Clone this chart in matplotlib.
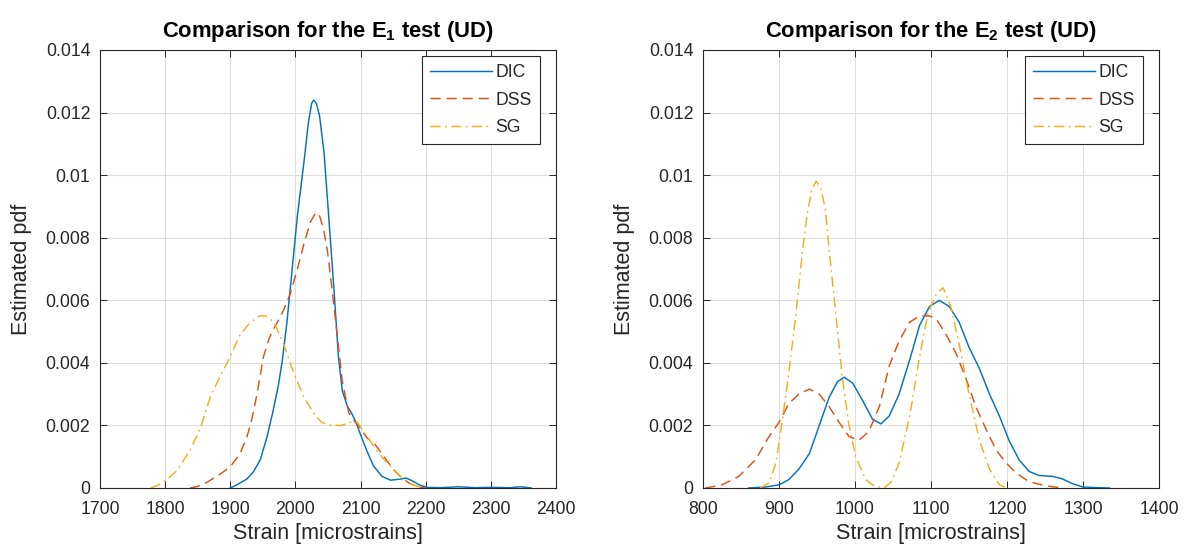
import matplotlib
matplotlib.use("Agg")
import matplotlib.pyplot as plt

plt.rcParams['font.family'] = ['Liberation Sans', 'DejaVu Sans']
plt.rcParams['mathtext.default'] = 'regular'

# ---------------- data ----------------
e1_dic_x = [1900, 1910, 1925, 1935, 1946, 1956, 1965, 1974, 1980, 1987, 1995, 2003, 2013, 2020,
            2025, 2028, 2032, 2037, 2044, 2051, 2059, 2066, 2072, 2080, 2086, 2093, 2100, 2110,
            2120, 2133, 2146, 2160, 2170, 2180, 2190, 2202, 2225, 2250, 2275, 2300, 2330, 2345, 2362]
e1_dic_y = [0, 0.0001, 0.00028, 0.0005, 0.0009, 0.0016, 0.0024, 0.0033, 0.0041, 0.0053, 0.0070,
            0.0087, 0.0104, 0.0117, 0.0123, 0.0124, 0.0123, 0.0119, 0.0107, 0.0087, 0.0064, 0.0042,
            0.0031, 0.0026, 0.0024, 0.0021, 0.0017, 0.00117, 0.0007, 0.00037, 0.00025, 0.00028,
            0.00032, 0.00022, 0.0001, 0.00002, 0.00001, 0.00004, 0.00001, 0.00002, 0.00001, 0.00004, 0]

e1_dss_x = [1838, 1850, 1864, 1885, 1900, 1915, 1925, 1932, 1941, 1951, 1960, 1967, 1975, 1982,
            1992, 2003, 2013, 2023, 2031, 2037, 2043, 2049, 2056, 2064, 2072, 2082, 2092, 2100,
            2110, 2122, 2136, 2150, 2162, 2175, 2190, 2200]
e1_dss_y = [0, 0.00005, 0.00018, 0.00045, 0.00068, 0.0011, 0.0016, 0.0021, 0.0030, 0.0042, 0.0048,
            0.0051, 0.0054, 0.0057, 0.0062, 0.0070, 0.0078, 0.0085, 0.0088, 0.0087, 0.0083, 0.0076,
            0.0064, 0.0049, 0.0034, 0.0024, 0.0021, 0.0019, 0.0016, 0.0014, 0.0010, 0.0006,
            0.00035, 0.00015, 0.00003, 0]

e1_sg_x = [1778, 1790, 1800, 1818, 1838, 1854, 1869, 1885, 1900, 1915, 1931, 1945, 1955, 1967,
           1982, 1997, 2013, 2028, 2040, 2055, 2070, 2085, 2095, 2105, 2115, 2128, 2141, 2155,
           2167, 2180, 2195]
e1_sg_y = [0, 0.0001, 0.00023, 0.00055, 0.0012, 0.0019, 0.0029, 0.0036, 0.0042, 0.0049, 0.0053,
           0.0055, 0.0055, 0.0053, 0.0046, 0.0037, 0.0029, 0.0024, 0.0021, 0.0020, 0.0020, 0.0021,
           0.0021, 0.0018, 0.0015, 0.0011, 0.0008, 0.0005, 0.00027, 0.0001, 0]

e2_dic_x = [860, 882, 900, 913, 926, 940, 953, 966, 977, 986, 997, 1010, 1023, 1034, 1045, 1058,
            1072, 1085, 1098, 1111, 1124, 1137, 1150, 1164, 1177, 1190, 1203, 1216, 1229, 1242,
            1260, 1273, 1286, 1300, 1320, 1335]
e2_dic_y = [0, 0.00003, 0.0001, 0.00027, 0.0006, 0.0011, 0.0020, 0.0029, 0.0034, 0.00354, 0.00335,
            0.0028, 0.0022, 0.00205, 0.0023, 0.0030, 0.0041, 0.0052, 0.0058, 0.0060, 0.0058, 0.0053,
            0.0045, 0.0038, 0.0030, 0.0023, 0.0015, 0.0009, 0.00053, 0.0004, 0.00037, 0.00029,
            0.00014, 0.00003, 0.00001, 0]

e2_dss_x = [803, 825, 847, 869, 887, 900, 913, 926, 940, 953, 966, 979, 992, 1005, 1018, 1032,
            1045, 1058, 1072, 1085, 1098, 1107, 1120, 1133, 1146, 1159, 1172, 1186, 1199, 1212,
            1229, 1251, 1273]
e2_dss_y = [0, 0.0001, 0.00037, 0.0009, 0.00165, 0.0021, 0.0027, 0.0030, 0.00316, 0.0030, 0.0026,
            0.0021, 0.00165, 0.00152, 0.0018, 0.0026, 0.0039, 0.0047, 0.0053, 0.0055, 0.0055,
            0.0054, 0.0049, 0.0043, 0.0035, 0.0026, 0.0019, 0.0012, 0.0008, 0.00048, 0.0002,
            0.00007, 0]

e2_sg_x = [875, 887, 896, 904, 913, 922, 931, 938, 944, 949, 955, 961, 966, 975, 983, 992, 1001,
           1014, 1027, 1040, 1048, 1058, 1072, 1085, 1096, 1107, 1116, 1126, 1137, 1150, 1164,
           1177, 1190, 1200]
e2_sg_y = [0, 0.00016, 0.0008, 0.0021, 0.0037, 0.0055, 0.0076, 0.0089, 0.0096, 0.0098, 0.0096,
           0.0089, 0.0076, 0.0055, 0.0036, 0.0020, 0.0010, 0.00027, 0.00003, 0.00003, 0.0002,
           0.0008, 0.0023, 0.0042, 0.0056, 0.0062, 0.0064, 0.0058, 0.0046, 0.0030, 0.0015,
           0.0006, 0.0001, 0]

series_labels = ['DIC', 'DSS', 'SG']
titles = ['Comparison for the E$_1$ test (UD)', 'Comparison for the E$_2$ test (UD)']
xlabel = 'Strain [microstrains]'
ylabel = 'Estimated pdf'
yticks = [0, 0.002, 0.004, 0.006, 0.008, 0.01, 0.012, 0.014]
ytick_labels = ['0', '0.002', '0.004', '0.006', '0.008', '0.01', '0.012', '0.014']
e1_xticks = [1700, 1800, 1900, 2000, 2100, 2200, 2300, 2400]
e2_xticks = [800, 900, 1000, 1100, 1200, 1300, 1400]

# ---------------- styling ----------------
colors = ['#0072BD', '#D95319', '#EDB120']
styles = ['-', (0, (7, 4)), (0, (7, 3, 1.2, 3))]
txt = '#262626'

fig = plt.figure(figsize=(11.9, 5.56), dpi=100)
W, H = 1190, 556
ax_bottom = (H - 488) / H
ax_h = 438 / H
ax_w = 456 / W
ax1 = fig.add_axes([100 / W, ax_bottom, ax_w, ax_h])
ax2 = fig.add_axes([703 / W, ax_bottom, ax_w, ax_h])

panels = [
    (ax1, [(e1_dic_x, e1_dic_y), (e1_dss_x, e1_dss_y), (e1_sg_x, e1_sg_y)], e1_xticks, titles[0]),
    (ax2, [(e2_dic_x, e2_dic_y), (e2_dss_x, e2_dss_y), (e2_sg_x, e2_sg_y)], e2_xticks, titles[1]),
]

for ax, data, xt, title in panels:
    for (x, y), c, ls, lab in zip(data, colors, styles, series_labels):
        ax.plot(x, y, color=c, linestyle=ls, linewidth=1.05, label=lab)
    ax.set_xlim(xt[0], xt[-1])
    ax.set_ylim(0, 0.014)
    ax.set_xticks(xt)
    ax.set_xticklabels([str(v) for v in xt])
    ax.set_yticks(yticks)
    ax.set_yticklabels(ytick_labels)
    ax.grid(True, color='#dedede', linewidth=0.8)
    ax.set_axisbelow(True)
    ax.tick_params(direction='in', top=True, right=True, length=5, width=0.7,
                   colors=txt, labelsize=12.7)
    ax.tick_params(axis='x', pad=9)
    ax.tick_params(axis='y', pad=7)
    for s in ax.spines.values():
        s.set_color(txt)
        s.set_linewidth(0.8)
    ax.set_xlabel(xlabel, fontsize=15.5, color=txt, labelpad=4)
    ax.set_ylabel(ylabel, fontsize=15.5, color=txt, labelpad=10)
    ax.set_title(title, fontsize=15.8, fontweight='bold', color='black', pad=9)
    leg = ax.legend(loc='upper right', bbox_to_anchor=(0.964, 0.986), borderaxespad=0,
                    fontsize=12.7, handlelength=3.5, handletextpad=0.2, labelspacing=0.6,
                    borderpad=0.45, fancybox=False, framealpha=1, edgecolor=txt)
    leg.get_frame().set_linewidth(0.8)
    for t in leg.get_texts():
        t.set_color(txt)

fig.savefig('out.png', dpi=100)
